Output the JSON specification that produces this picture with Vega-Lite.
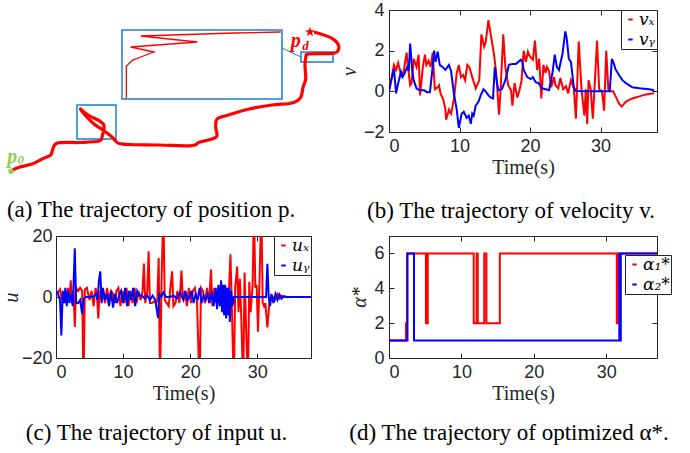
{
  "$schema": "https://vega.github.io/schema/vega-lite/v6.json",
  "background": "white",
  "padding": {"left": 0, "top": 0, "right": 0, "bottom": 0},
  "autosize": {"type": "pad"},
  "spacing": 2,
  "resolve": {"scale": {"color": "independent"}, "legend": {"color": "independent"}},
  "config": {
    "view": {"stroke": "#262626", "strokeWidth": 1},
    "axis": {"grid": false, "domain": false, "tickColor": "#262626", "tickSize": -5, "labelPadding": 10, "labelFont": "Liberation Sans", "labelFontSize": 18, "labelColor": "#262626", "titleFont": "Liberation Serif", "titleFontSize": 20, "titleFontWeight": "normal", "titleColor": "#262626"},
    "legend": {"symbolType": "stroke", "symbolStrokeWidth": 2, "symbolSize": 20, "labelFont": "DejaVu Serif", "labelFontStyle": "italic", "labelFontSize": 17, "strokeColor": "#262626", "fillColor": "white", "padding": 1, "rowPadding": 2, "labelOffset": 0, "offset": 0, "title": null},
    "title": {"font": "Liberation Serif", "fontSize": 23, "fontWeight": "normal", "color": "black", "orient": "bottom", "anchor": "middle"}
  },
  "datasets": {
    "traj": [
      {"i": 0, "x": 12, "y": 172}, {"i": 1, "x": 20, "y": 168.3}, {"i": 2, "x": 33, "y": 165}, {"i": 3, "x": 43, "y": 160}, {"i": 4, "x": 51.7, "y": 156},
      {"i": 5, "x": 53.3, "y": 151.7}, {"i": 6, "x": 58.3, "y": 144}, {"i": 7, "x": 80, "y": 143.5}, {"i": 8, "x": 100, "y": 142},
      {"i": 9, "x": 103.3, "y": 136.7}, {"i": 10, "x": 105, "y": 126.7}, {"i": 11, "x": 100, "y": 121.7}, {"i": 12, "x": 90, "y": 116.7},
      {"i": 13, "x": 83.3, "y": 111.7}, {"i": 14, "x": 81.5, "y": 110}, {"i": 15, "x": 85, "y": 115}, {"i": 16, "x": 95, "y": 125},
      {"i": 17, "x": 105, "y": 131.7}, {"i": 18, "x": 113.3, "y": 138.3}, {"i": 19, "x": 116.7, "y": 142}, {"i": 20, "x": 120, "y": 144.5},
      {"i": 21, "x": 130, "y": 145.5}, {"i": 22, "x": 160, "y": 146}, {"i": 23, "x": 190, "y": 146.8}, {"i": 24, "x": 197, "y": 145.5},
      {"i": 25, "x": 200, "y": 143.3}, {"i": 26, "x": 213, "y": 140}, {"i": 27, "x": 218, "y": 136.7}, {"i": 28, "x": 216.7, "y": 128.3},
      {"i": 29, "x": 218, "y": 120}, {"i": 30, "x": 227, "y": 116.7}, {"i": 31, "x": 250, "y": 110}, {"i": 32, "x": 273, "y": 106},
      {"i": 33, "x": 293, "y": 104}, {"i": 34, "x": 301.7, "y": 98.3}, {"i": 35, "x": 304, "y": 88.3}, {"i": 36, "x": 306.7, "y": 80},
      {"i": 37, "x": 306, "y": 66.7}, {"i": 38, "x": 307, "y": 57.3}, {"i": 39, "x": 310, "y": 55}, {"i": 40, "x": 333, "y": 54.3},
      {"i": 41, "x": 339, "y": 51.7}, {"i": 42, "x": 339, "y": 45}, {"i": 43, "x": 333, "y": 39.3}, {"i": 44, "x": 321.7, "y": 35},
      {"i": 45, "x": 315, "y": 33.3}
    ],
    "inset": [
      {"i": 0, "x": 127.3, "y": 99.7}, {"i": 1, "x": 127.3, "y": 67.3}, {"i": 2, "x": 133.3, "y": 61.3}, {"i": 3, "x": 141.7, "y": 58},
      {"i": 4, "x": 155, "y": 53}, {"i": 5, "x": 131.7, "y": 48}, {"i": 6, "x": 198.3, "y": 43}, {"i": 7, "x": 141.7, "y": 37},
      {"i": 8, "x": 235, "y": 34}, {"i": 9, "x": 281.7, "y": 33}
    ],
    "boxes": [
      {"x1": 78, "x2": 117, "y1": 106, "y2": 140},
      {"x1": 302, "x2": 334, "y1": 53, "y2": 63},
      {"x1": 123, "x2": 283, "y1": 31, "y2": 100}
    ],
    "links": [{"x1": 283, "y1": 49, "x2": 302, "y2": 58}],
    "start": [{"x": 12, "y": 172.3}],
    "goal": [{"x": 311, "y": 33}],
    "labels": [
      {"x": 13.3, "y": 158.3, "main": "p", "c": "start"},
      {"x": 296.7, "y": 41.7, "main": "p", "c": "goal"}
    ],
    "sublabels": [
      {"x": 21.7, "y": 160.5, "t": "0", "c": "start"},
      {"x": 306.5, "y": 46.5, "t": "d", "c": "goal"}
    ],
    "vel": [
      {"t": 0, "v": 0, "s": "vx"}, {"t": 0.7, "v": 1.3, "s": "vx"}, {"t": 1.0, "v": 1.05, "s": "vx"}, {"t": 1.3, "v": 1.4, "s": "vx"}, {"t": 1.7, "v": 0.8, "s": "vx"},
      {"t": 2.1, "v": 1.0, "s": "vx"}, {"t": 2.5, "v": 1.9, "s": "vx"}, {"t": 2.7, "v": 1.2, "s": "vx"}, {"t": 3.0, "v": 0.3, "s": "vx"}, {"t": 3.2, "v": 0.4, "s": "vx"},
      {"t": 3.5, "v": 1.6, "s": "vx"}, {"t": 3.9, "v": 1.2, "s": "vx"}, {"t": 4.2, "v": 1.8, "s": "vx"}, {"t": 4.4, "v": -0.2, "s": "vx"}, {"t": 4.8, "v": 1.2, "s": "vx"},
      {"t": 5.1, "v": 1.8, "s": "vx"}, {"t": 5.3, "v": 1.3, "s": "vx"}, {"t": 5.6, "v": 1.5, "s": "vx"}, {"t": 5.9, "v": 1.2, "s": "vx"}, {"t": 6.2, "v": 1.9, "s": "vx"},
      {"t": 6.5, "v": 0.1, "s": "vx"}, {"t": 6.9, "v": 0.2, "s": "vx"}, {"t": 7.1, "v": 0.3, "s": "vx"}, {"t": 7.3, "v": -0.1, "s": "vx"}, {"t": 7.7, "v": -0.4, "s": "vx"},
      {"t": 8.0, "v": -0.9, "s": "vx"}, {"t": 8.1, "v": -1.4, "s": "vx"}, {"t": 8.5, "v": -0.9, "s": "vx"}, {"t": 8.8, "v": -1.1, "s": "vx"}, {"t": 9.2, "v": -0.4, "s": "vx"},
      {"t": 9.6, "v": 0.9, "s": "vx"}, {"t": 9.9, "v": 1.3, "s": "vx"}, {"t": 10.2, "v": 0.7, "s": "vx"}, {"t": 10.5, "v": 0.8, "s": "vx"}, {"t": 10.8, "v": 0.55, "s": "vx"},
      {"t": 11.1, "v": 1.3, "s": "vx"}, {"t": 11.4, "v": 1.2, "s": "vx"}, {"t": 11.8, "v": 0.7, "s": "vx"}, {"t": 12.3, "v": 0.15, "s": "vx"}, {"t": 12.8, "v": 0.55, "s": "vx"},
      {"t": 13.1, "v": 2.8, "s": "vx"}, {"t": 13.5, "v": 2.2, "s": "vx"}, {"t": 13.7, "v": 2.4, "s": "vx"}, {"t": 14.1, "v": 3.5, "s": "vx"}, {"t": 14.4, "v": 2.85, "s": "vx"},
      {"t": 14.9, "v": 1.8, "s": "vx"}, {"t": 15.2, "v": 0.9, "s": "vx"}, {"t": 15.6, "v": -1.15, "s": "vx"}, {"t": 15.8, "v": -0.1, "s": "vx"}, {"t": 16.2, "v": 2.8, "s": "vx"},
      {"t": 16.5, "v": 1.2, "s": "vx"}, {"t": 16.9, "v": 0.3, "s": "vx"}, {"t": 17.3, "v": 0.05, "s": "vx"}, {"t": 17.5, "v": -0.7, "s": "vx"}, {"t": 17.8, "v": 0.4, "s": "vx"},
      {"t": 18.2, "v": -0.3, "s": "vx"}, {"t": 18.5, "v": 0.05, "s": "vx"}, {"t": 18.8, "v": 0.55, "s": "vx"}, {"t": 19.1, "v": 2.0, "s": "vx"}, {"t": 19.4, "v": 1.45, "s": "vx"},
      {"t": 19.7, "v": 1.95, "s": "vx"}, {"t": 20.0, "v": 1.7, "s": "vx"}, {"t": 20.4, "v": 1.55, "s": "vx"}, {"t": 20.7, "v": 2.5, "s": "vx"}, {"t": 21.0, "v": 1.05, "s": "vx"},
      {"t": 21.3, "v": 1.6, "s": "vx"}, {"t": 21.6, "v": -0.35, "s": "vx"}, {"t": 21.9, "v": 1.3, "s": "vx"}, {"t": 22.2, "v": 0.9, "s": "vx"}, {"t": 22.4, "v": 1.2, "s": "vx"},
      {"t": 22.7, "v": 1.0, "s": "vx"}, {"t": 23.0, "v": 0.2, "s": "vx"}, {"t": 23.4, "v": 0.7, "s": "vx"}, {"t": 23.6, "v": 0.3, "s": "vx"}, {"t": 24.0, "v": 0.15, "s": "vx"},
      {"t": 24.3, "v": 0.65, "s": "vx"}, {"t": 24.7, "v": 0.1, "s": "vx"}, {"t": 25.1, "v": 0.25, "s": "vx"}, {"t": 25.4, "v": -0.1, "s": "vx"}, {"t": 25.8, "v": 0.55, "s": "vx"},
      {"t": 26.2, "v": 0.15, "s": "vx"}, {"t": 26.5, "v": -1.35, "s": "vx"}, {"t": 26.7, "v": 0.5, "s": "vx"}, {"t": 26.9, "v": 2.45, "s": "vx"}, {"t": 27.3, "v": 0.1, "s": "vx"},
      {"t": 27.7, "v": -1.2, "s": "vx"}, {"t": 27.9, "v": 0.1, "s": "vx"}, {"t": 28.1, "v": -1.6, "s": "vx"}, {"t": 28.3, "v": 0.55, "s": "vx"}, {"t": 28.6, "v": 0.1, "s": "vx"},
      {"t": 28.9, "v": -1.35, "s": "vx"}, {"t": 29.2, "v": 0.55, "s": "vx"}, {"t": 29.5, "v": 2.5, "s": "vx"}, {"t": 29.8, "v": 0.1, "s": "vx"}, {"t": 30.2, "v": 0.0, "s": "vx"},
      {"t": 30.5, "v": -0.95, "s": "vx"}, {"t": 30.8, "v": 2.0, "s": "vx"}, {"t": 31.1, "v": 0.1, "s": "vx"}, {"t": 31.4, "v": 0.0, "s": "vx"}, {"t": 31.8, "v": 0.0, "s": "vx"},
      {"t": 32.2, "v": -0.3, "s": "vx"}, {"t": 32.6, "v": -0.6, "s": "vx"}, {"t": 33.0, "v": -0.75, "s": "vx"}, {"t": 33.6, "v": -0.5, "s": "vx"}, {"t": 34.5, "v": -0.35, "s": "vx"},
      {"t": 35.5, "v": -0.25, "s": "vx"}, {"t": 36.4, "v": -0.15, "s": "vx"}, {"t": 37.6, "v": -0.1, "s": "vx"},
      {"t": 0, "v": 0, "s": "vy"}, {"t": 0.3, "v": 0.5, "s": "vy"}, {"t": 0.7, "v": 1.1, "s": "vy"}, {"t": 1.0, "v": -0.1, "s": "vy"}, {"t": 1.3, "v": 0.4, "s": "vy"},
      {"t": 1.7, "v": 0.95, "s": "vy"}, {"t": 1.9, "v": 0.7, "s": "vy"}, {"t": 2.1, "v": 0.8, "s": "vy"}, {"t": 2.4, "v": 1.05, "s": "vy"}, {"t": 2.6, "v": 1.2, "s": "vy"},
      {"t": 2.8, "v": 1.0, "s": "vy"}, {"t": 3.0, "v": 2.35, "s": "vy"}, {"t": 3.3, "v": 1.0, "s": "vy"}, {"t": 3.5, "v": 0.55, "s": "vy"}, {"t": 3.9, "v": 0.15, "s": "vy"},
      {"t": 4.3, "v": 0.05, "s": "vy"}, {"t": 5.0, "v": 0.05, "s": "vy"}, {"t": 5.4, "v": -0.05, "s": "vy"}, {"t": 5.8, "v": -0.05, "s": "vy"}, {"t": 6.1, "v": 0.9, "s": "vy"},
      {"t": 6.4, "v": 2.0, "s": "vy"}, {"t": 6.6, "v": 1.45, "s": "vy"}, {"t": 6.9, "v": 1.95, "s": "vy"}, {"t": 7.2, "v": 1.3, "s": "vy"}, {"t": 7.6, "v": 1.2, "s": "vy"},
      {"t": 8.0, "v": 1.05, "s": "vy"}, {"t": 8.3, "v": 1.2, "s": "vy"}, {"t": 8.5, "v": 1.3, "s": "vy"}, {"t": 8.8, "v": 1.0, "s": "vy"}, {"t": 9.2, "v": -0.1, "s": "vy"},
      {"t": 9.6, "v": -0.9, "s": "vy"}, {"t": 9.9, "v": -1.8, "s": "vy"}, {"t": 10.3, "v": -1.1, "s": "vy"}, {"t": 10.6, "v": -1.0, "s": "vy"}, {"t": 11.0, "v": -1.3, "s": "vy"},
      {"t": 11.3, "v": -1.2, "s": "vy"}, {"t": 11.6, "v": -1.6, "s": "vy"}, {"t": 11.8, "v": -1.1, "s": "vy"}, {"t": 12.0, "v": -1.2, "s": "vy"}, {"t": 12.3, "v": -0.7, "s": "vy"},
      {"t": 12.7, "v": -0.5, "s": "vy"}, {"t": 13.0, "v": -0.2, "s": "vy"}, {"t": 13.4, "v": 0.1, "s": "vy"}, {"t": 13.7, "v": 0.0, "s": "vy"}, {"t": 14.1, "v": -0.2, "s": "vy"},
      {"t": 14.4, "v": -0.3, "s": "vy"}, {"t": 14.75, "v": -0.35, "s": "vy"}, {"t": 15.0, "v": 1.2, "s": "vy"}, {"t": 15.2, "v": 0.7, "s": "vy"}, {"t": 15.5, "v": 0.05, "s": "vy"},
      {"t": 16.0, "v": 0.1, "s": "vy"}, {"t": 16.5, "v": 0.55, "s": "vy"}, {"t": 17.0, "v": 1.3, "s": "vy"}, {"t": 17.5, "v": 1.35, "s": "vy"}, {"t": 18.0, "v": 1.35, "s": "vy"},
      {"t": 18.7, "v": 1.55, "s": "vy"}, {"t": 18.9, "v": 1.45, "s": "vy"}, {"t": 19.1, "v": 1.05, "s": "vy"}, {"t": 19.6, "v": 0.7, "s": "vy"}, {"t": 20.1, "v": 0.6, "s": "vy"},
      {"t": 20.4, "v": 0.7, "s": "vy"}, {"t": 20.8, "v": 0.45, "s": "vy"}, {"t": 21.2, "v": 0.4, "s": "vy"}, {"t": 21.7, "v": 0.15, "s": "vy"}, {"t": 22.2, "v": 0.1, "s": "vy"},
      {"t": 22.7, "v": 0.05, "s": "vy"}, {"t": 23.2, "v": 0.95, "s": "vy"}, {"t": 23.5, "v": 1.8, "s": "vy"}, {"t": 23.8, "v": 1.2, "s": "vy"}, {"t": 24.1, "v": 1.05, "s": "vy"},
      {"t": 24.6, "v": 1.85, "s": "vy"}, {"t": 25.0, "v": 2.95, "s": "vy"}, {"t": 25.2, "v": 2.6, "s": "vy"}, {"t": 25.5, "v": 1.6, "s": "vy"}, {"t": 25.8, "v": 1.45, "s": "vy"},
      {"t": 26.2, "v": 0.2, "s": "vy"}, {"t": 26.5, "v": 0.02, "s": "vy"}, {"t": 28.0, "v": 0.0, "s": "vy"}, {"t": 30.0, "v": 0.0, "s": "vy"}, {"t": 31.3, "v": 0.0, "s": "vy"},
      {"t": 31.6, "v": 1.6, "s": "vy"}, {"t": 31.9, "v": 1.35, "s": "vy"}, {"t": 32.1, "v": 1.1, "s": "vy"}, {"t": 32.6, "v": 0.8, "s": "vy"}, {"t": 33.1, "v": 0.55, "s": "vy"},
      {"t": 33.6, "v": 0.4, "s": "vy"}, {"t": 34.5, "v": 0.2, "s": "vy"}, {"t": 35.5, "v": 0.15, "s": "vy"}, {"t": 36.9, "v": 0.1, "s": "vy"}, {"t": 37.6, "v": 0.05, "s": "vy"}
    ],
    "inp": [
      {"t": 0, "u": 2, "s": "ux"}, {"t": 0.3, "u": 1.5, "s": "ux"}, {"t": 0.6, "u": 2.5, "s": "ux"}, {"t": 0.9, "u": -1, "s": "ux"}, {"t": 1.2, "u": 1, "s": "ux"},
      {"t": 1.5, "u": -2, "s": "ux"}, {"t": 1.8, "u": 3, "s": "ux"}, {"t": 2.0, "u": -1, "s": "ux"}, {"t": 2.2, "u": 5.5, "s": "ux"}, {"t": 2.4, "u": -2, "s": "ux"},
      {"t": 2.6, "u": 2, "s": "ux"}, {"t": 2.8, "u": -9.8, "s": "ux"}, {"t": 3.0, "u": 3, "s": "ux"}, {"t": 3.3, "u": 2, "s": "ux"}, {"t": 3.6, "u": 3, "s": "ux"},
      {"t": 3.9, "u": 2, "s": "ux"}, {"t": 4.1, "u": -30, "s": "ux"}, {"t": 4.3, "u": 2.5, "s": "ux"}, {"t": 4.6, "u": 3, "s": "ux"}, {"t": 5.0, "u": -1, "s": "ux"},
      {"t": 5.3, "u": 2, "s": "ux"}, {"t": 5.6, "u": -3, "s": "ux"}, {"t": 5.9, "u": 3, "s": "ux"}, {"t": 6.1, "u": 1, "s": "ux"}, {"t": 6.3, "u": -7, "s": "ux"},
      {"t": 6.5, "u": 2, "s": "ux"}, {"t": 6.8, "u": -1, "s": "ux"}, {"t": 7.0, "u": 2, "s": "ux"}, {"t": 7.3, "u": -2, "s": "ux"}, {"t": 7.6, "u": 3, "s": "ux"},
      {"t": 7.9, "u": -1, "s": "ux"}, {"t": 8.2, "u": 2, "s": "ux"}, {"t": 8.5, "u": 1, "s": "ux"}, {"t": 8.8, "u": -2, "s": "ux"}, {"t": 9.0, "u": 2, "s": "ux"},
      {"t": 9.3, "u": 3, "s": "ux"}, {"t": 9.6, "u": -3, "s": "ux"}, {"t": 9.9, "u": 2, "s": "ux"}, {"t": 10.2, "u": -2, "s": "ux"}, {"t": 10.5, "u": 3, "s": "ux"},
      {"t": 10.8, "u": -3, "s": "ux"}, {"t": 11.1, "u": 2, "s": "ux"}, {"t": 11.4, "u": -2, "s": "ux"}, {"t": 11.7, "u": 3, "s": "ux"}, {"t": 12.0, "u": -2, "s": "ux"},
      {"t": 12.3, "u": 2, "s": "ux"}, {"t": 12.6, "u": -1, "s": "ux"}, {"t": 12.9, "u": 2, "s": "ux"}, {"t": 13.1, "u": 11, "s": "ux"}, {"t": 13.3, "u": -2, "s": "ux"},
      {"t": 13.6, "u": 2, "s": "ux"}, {"t": 13.8, "u": 15, "s": "ux"}, {"t": 14.0, "u": -2, "s": "ux"}, {"t": 14.3, "u": -2, "s": "ux"}, {"t": 14.6, "u": -1.5, "s": "ux"},
      {"t": 14.9, "u": -2, "s": "ux"}, {"t": 15.1, "u": -1, "s": "ux"}, {"t": 15.3, "u": 12.8, "s": "ux"}, {"t": 15.5, "u": -30, "s": "ux"}, {"t": 15.7, "u": 2, "s": "ux"},
      {"t": 16.0, "u": 30, "s": "ux"}, {"t": 16.2, "u": -1, "s": "ux"}, {"t": 16.5, "u": -2, "s": "ux"}, {"t": 16.8, "u": -3, "s": "ux"}, {"t": 17.0, "u": 2, "s": "ux"},
      {"t": 17.3, "u": 8.4, "s": "ux"}, {"t": 17.5, "u": -3, "s": "ux"}, {"t": 17.8, "u": -2, "s": "ux"}, {"t": 18.1, "u": 2, "s": "ux"}, {"t": 18.4, "u": -2, "s": "ux"},
      {"t": 18.7, "u": 8.7, "s": "ux"}, {"t": 18.9, "u": -1, "s": "ux"}, {"t": 19.2, "u": 2, "s": "ux"}, {"t": 19.5, "u": -3, "s": "ux"}, {"t": 19.8, "u": 3, "s": "ux"},
      {"t": 20.1, "u": -2, "s": "ux"}, {"t": 20.4, "u": 2, "s": "ux"}, {"t": 20.7, "u": 3, "s": "ux"}, {"t": 21.0, "u": -1, "s": "ux"}, {"t": 21.4, "u": -30, "s": "ux"},
      {"t": 21.6, "u": 3, "s": "ux"}, {"t": 21.9, "u": 2, "s": "ux"}, {"t": 22.2, "u": -2, "s": "ux"}, {"t": 22.5, "u": 3, "s": "ux"}, {"t": 22.8, "u": -2, "s": "ux"},
      {"t": 23.1, "u": 9, "s": "ux"}, {"t": 23.3, "u": -3, "s": "ux"}, {"t": 23.6, "u": 3, "s": "ux"}, {"t": 23.9, "u": -2, "s": "ux"}, {"t": 24.2, "u": 3, "s": "ux"},
      {"t": 24.5, "u": -3, "s": "ux"}, {"t": 24.8, "u": 3, "s": "ux"}, {"t": 25.1, "u": -4, "s": "ux"}, {"t": 25.4, "u": 3, "s": "ux"}, {"t": 25.7, "u": -2, "s": "ux"},
      {"t": 26.0, "u": 14, "s": "ux"}, {"t": 26.2, "u": -3, "s": "ux"}, {"t": 26.5, "u": -30, "s": "ux"}, {"t": 26.7, "u": 3, "s": "ux"}, {"t": 27.0, "u": 10, "s": "ux"},
      {"t": 27.2, "u": -5, "s": "ux"}, {"t": 27.4, "u": 6, "s": "ux"}, {"t": 27.6, "u": -6, "s": "ux"}, {"t": 27.9, "u": -30, "s": "ux"}, {"t": 28.1, "u": 8, "s": "ux"},
      {"t": 28.3, "u": -8, "s": "ux"}, {"t": 28.6, "u": -30, "s": "ux"}, {"t": 28.8, "u": 5, "s": "ux"}, {"t": 29.0, "u": -5, "s": "ux"}, {"t": 29.3, "u": 4, "s": "ux"},
      {"t": 29.5, "u": 30, "s": "ux"}, {"t": 29.7, "u": 3, "s": "ux"}, {"t": 29.9, "u": 4, "s": "ux"}, {"t": 30.1, "u": -11.4, "s": "ux"}, {"t": 30.3, "u": 3, "s": "ux"},
      {"t": 30.6, "u": 30, "s": "ux"}, {"t": 30.8, "u": -2, "s": "ux"}, {"t": 31.0, "u": -3, "s": "ux"}, {"t": 31.2, "u": -2, "s": "ux"}, {"t": 31.5, "u": -10, "s": "ux"},
      {"t": 31.8, "u": -2, "s": "ux"}, {"t": 32.0, "u": -1, "s": "ux"}, {"t": 32.3, "u": 0, "s": "ux"}, {"t": 32.6, "u": -1, "s": "ux"}, {"t": 33.0, "u": 1, "s": "ux"},
      {"t": 33.3, "u": -0.5, "s": "ux"}, {"t": 33.6, "u": 0.5, "s": "ux"}, {"t": 34.0, "u": 0, "s": "ux"}, {"t": 35, "u": 0, "s": "ux"}, {"t": 38, "u": 0, "s": "ux"},
      {"t": 0, "u": 2, "s": "uy"}, {"t": 0.3, "u": 1, "s": "uy"}, {"t": 0.6, "u": -1, "s": "uy"}, {"t": 0.8, "u": -12.6, "s": "uy"}, {"t": 1.0, "u": 2, "s": "uy"},
      {"t": 1.2, "u": -2, "s": "uy"}, {"t": 1.4, "u": 3, "s": "uy"}, {"t": 1.6, "u": -3, "s": "uy"}, {"t": 1.8, "u": 2, "s": "uy"}, {"t": 2.0, "u": -2, "s": "uy"},
      {"t": 2.2, "u": 1, "s": "uy"}, {"t": 2.5, "u": -3, "s": "uy"}, {"t": 2.8, "u": 16, "s": "uy"}, {"t": 3.0, "u": -2, "s": "uy"}, {"t": 3.3, "u": -2, "s": "uy"},
      {"t": 3.6, "u": -1, "s": "uy"}, {"t": 3.9, "u": -5.5, "s": "uy"}, {"t": 4.1, "u": -0.5, "s": "uy"}, {"t": 4.5, "u": 0, "s": "uy"}, {"t": 5.5, "u": 0, "s": "uy"},
      {"t": 6.0, "u": 1, "s": "uy"}, {"t": 6.2, "u": -1, "s": "uy"}, {"t": 6.4, "u": 5.5, "s": "uy"}, {"t": 6.6, "u": 8.4, "s": "uy"}, {"t": 6.8, "u": -2, "s": "uy"},
      {"t": 7.0, "u": 3, "s": "uy"}, {"t": 7.3, "u": -1, "s": "uy"}, {"t": 7.6, "u": 1, "s": "uy"}, {"t": 7.9, "u": -3, "s": "uy"}, {"t": 8.2, "u": 2, "s": "uy"},
      {"t": 8.5, "u": -3.5, "s": "uy"}, {"t": 8.8, "u": 1, "s": "uy"}, {"t": 9.1, "u": -2, "s": "uy"}, {"t": 9.4, "u": 0.5, "s": "uy"}, {"t": 9.7, "u": 2, "s": "uy"},
      {"t": 10.0, "u": -2, "s": "uy"}, {"t": 10.3, "u": 3, "s": "uy"}, {"t": 10.6, "u": -3, "s": "uy"}, {"t": 10.9, "u": 2, "s": "uy"}, {"t": 11.2, "u": -1, "s": "uy"},
      {"t": 11.5, "u": 3, "s": "uy"}, {"t": 11.8, "u": -3, "s": "uy"}, {"t": 12.1, "u": 2, "s": "uy"}, {"t": 12.4, "u": 0.5, "s": "uy"}, {"t": 12.8, "u": 0.5, "s": "uy"},
      {"t": 13.2, "u": -0.5, "s": "uy"}, {"t": 13.6, "u": 0.5, "s": "uy"}, {"t": 14.0, "u": -1, "s": "uy"}, {"t": 14.4, "u": 0.5, "s": "uy"}, {"t": 14.8, "u": -1, "s": "uy"},
      {"t": 15.2, "u": -6.9, "s": "uy"}, {"t": 15.4, "u": 1, "s": "uy"}, {"t": 15.7, "u": 0, "s": "uy"}, {"t": 16.0, "u": 1.5, "s": "uy"}, {"t": 16.4, "u": 0, "s": "uy"},
      {"t": 17.0, "u": 0, "s": "uy"}, {"t": 17.5, "u": 0.5, "s": "uy"}, {"t": 18.0, "u": -0.5, "s": "uy"}, {"t": 18.5, "u": 1.5, "s": "uy"}, {"t": 19.0, "u": -1, "s": "uy"},
      {"t": 19.3, "u": 2, "s": "uy"}, {"t": 19.6, "u": -1, "s": "uy"}, {"t": 19.9, "u": 0, "s": "uy"}, {"t": 20.2, "u": 2, "s": "uy"}, {"t": 20.5, "u": -2, "s": "uy"},
      {"t": 20.8, "u": 1, "s": "uy"}, {"t": 21.1, "u": -1, "s": "uy"}, {"t": 21.4, "u": 3, "s": "uy"}, {"t": 21.7, "u": -2, "s": "uy"}, {"t": 22.0, "u": 0.5, "s": "uy"},
      {"t": 22.3, "u": -1, "s": "uy"}, {"t": 22.6, "u": 1, "s": "uy"}, {"t": 22.9, "u": -2, "s": "uy"}, {"t": 23.2, "u": 2, "s": "uy"}, {"t": 23.5, "u": -3, "s": "uy"},
      {"t": 23.8, "u": 3, "s": "uy"}, {"t": 24.0, "u": -4, "s": "uy"}, {"t": 24.2, "u": 4, "s": "uy"}, {"t": 24.4, "u": -3, "s": "uy"}, {"t": 24.6, "u": 5.5, "s": "uy"},
      {"t": 24.75, "u": -5, "s": "uy"}, {"t": 24.9, "u": 4, "s": "uy"}, {"t": 25.05, "u": -6, "s": "uy"}, {"t": 25.2, "u": 4, "s": "uy"}, {"t": 25.35, "u": -7, "s": "uy"},
      {"t": 25.5, "u": 3, "s": "uy"}, {"t": 25.65, "u": -6, "s": "uy"}, {"t": 25.8, "u": 3, "s": "uy"}, {"t": 25.9, "u": -8.2, "s": "uy"}, {"t": 26.1, "u": 2, "s": "uy"},
      {"t": 26.3, "u": -3, "s": "uy"}, {"t": 26.5, "u": 0, "s": "uy"}, {"t": 27, "u": 0, "s": "uy"}, {"t": 29, "u": 0, "s": "uy"}, {"t": 31.3, "u": 0, "s": "uy"},
      {"t": 31.5, "u": 10.9, "s": "uy"}, {"t": 31.7, "u": 0, "s": "uy"}, {"t": 31.9, "u": -3, "s": "uy"}, {"t": 32.1, "u": 1, "s": "uy"}, {"t": 32.4, "u": -2, "s": "uy"},
      {"t": 32.7, "u": 1, "s": "uy"}, {"t": 33.0, "u": -1, "s": "uy"}, {"t": 33.3, "u": 0.8, "s": "uy"}, {"t": 33.6, "u": -0.5, "s": "uy"}, {"t": 34.0, "u": 0.3, "s": "uy"},
      {"t": 34.5, "u": -0.1, "s": "uy"}, {"t": 35, "u": 0, "s": "uy"}, {"t": 38, "u": 0, "s": "uy"}
    ],
    "alpha": [
      {"t": 0, "a": 1, "s": "a1"}, {"t": 2.35, "a": 2, "s": "a1"}, {"t": 2.5, "a": 6, "s": "a1"}, {"t": 5.1, "a": 2, "s": "a1"}, {"t": 5.35, "a": 6, "s": "a1"},
      {"t": 11.7, "a": 2, "s": "a1"}, {"t": 12.1, "a": 6, "s": "a1"}, {"t": 12.25, "a": 2, "s": "a1"}, {"t": 13.15, "a": 6, "s": "a1"}, {"t": 13.45, "a": 2, "s": "a1"},
      {"t": 15.3, "a": 6, "s": "a1"}, {"t": 31.45, "a": 2, "s": "a1"}, {"t": 31.6, "a": 6, "s": "a1"}, {"t": 37, "a": 6, "s": "a1"},
      {"t": 0, "a": 1, "s": "a2"}, {"t": 2.55, "a": 6, "s": "a2"}, {"t": 3.45, "a": 1, "s": "a2"}, {"t": 31.8, "a": 6, "s": "a2"}, {"t": 31.85, "a": 1, "s": "a2"},
      {"t": 31.9, "a": 6, "s": "a2"}, {"t": 31.95, "a": 1, "s": "a2"}, {"t": 32.0, "a": 6, "s": "a2"}, {"t": 37, "a": 6, "s": "a2"}
    ]
  },
  "vconcat": [
    {
      "spacing": 45,
      "bounds": "flush",
      "resolve": {"scale": {"color": "independent"}, "legend": {"color": "independent"}},
      "hconcat": [
        {
          "width": 288,
          "height": 179,
          "view": {"stroke": null},
          "title": {"text": "(a) The trajectory of position p.", "offset": 10, "dx": -49},
          "layer": [
            {
              "data": {"name": "boxes"},
              "mark": {"type": "rect", "fillOpacity": 0, "stroke": "#1a7fd0", "strokeWidth": 1.5},
              "encoding": {
                "x": {"field": "x1", "type": "quantitative", "scale": {"domain": [57, 345], "nice": false, "zero": false}, "axis": null},
                "x2": {"field": "x2"},
                "y": {"field": "y1", "type": "quantitative", "scale": {"domain": [11, 190], "nice": false, "zero": false, "reverse": true}, "axis": null},
                "y2": {"field": "y2"}
              }
            },
            {
              "data": {"name": "links"},
              "mark": {"type": "rule", "stroke": "#1a7fd0", "strokeWidth": 1},
              "encoding": {
                "x": {"field": "x1", "type": "quantitative", "axis": null},
                "x2": {"field": "x2"},
                "y": {"field": "y1", "type": "quantitative", "axis": null},
                "y2": {"field": "y2"}
              }
            },
            {
              "data": {"name": "inset"},
              "mark": {"type": "line", "color": "#ff0000", "strokeWidth": 1.3},
              "encoding": {
                "x": {"field": "x", "type": "quantitative", "axis": null},
                "y": {"field": "y", "type": "quantitative", "axis": null},
                "order": {"field": "i"}
              }
            },
            {
              "data": {"name": "traj"},
              "mark": {"type": "line", "color": "#ff0000", "strokeWidth": 3.2, "interpolate": "cardinal"},
              "encoding": {
                "x": {"field": "x", "type": "quantitative", "axis": null},
                "y": {"field": "y", "type": "quantitative", "axis": null},
                "order": {"field": "i"}
              }
            },
            {
              "data": {"name": "start"},
              "mark": {"type": "point", "shape": "circle", "filled": true, "size": 30, "color": "#92d050", "opacity": 1},
              "encoding": {
                "x": {"field": "x", "type": "quantitative", "axis": null},
                "y": {"field": "y", "type": "quantitative", "axis": null}
              }
            },
            {
              "data": {"name": "goal"},
              "mark": {"type": "point", "shape": "M0,-1L0.235,-0.324L0.951,-0.309L0.38,0.124L0.588,0.809L0,0.4L-0.588,0.809L-0.38,0.124L-0.951,-0.309L-0.235,-0.324Z", "filled": true, "size": 110, "color": "#ff0000", "opacity": 1},
              "encoding": {
                "x": {"field": "x", "type": "quantitative", "axis": null},
                "y": {"field": "y", "type": "quantitative", "axis": null}
              }
            },
            {
              "data": {"name": "labels"},
              "mark": {"type": "text", "font": "Liberation Serif", "fontSize": 20, "fontStyle": "italic", "fontWeight": "bold", "baseline": "middle", "align": "center"},
              "encoding": {
                "x": {"field": "x", "type": "quantitative", "axis": null},
                "y": {"field": "y", "type": "quantitative", "axis": null},
                "text": {"field": "main"},
                "color": {"field": "c", "type": "nominal", "scale": {"domain": ["start", "goal"], "range": ["#92d050", "#ff0000"]}, "legend": null}
              }
            },
            {
              "data": {"name": "sublabels"},
              "mark": {"type": "text", "font": "Liberation Serif", "fontSize": 13, "fontStyle": "italic", "fontWeight": "bold", "baseline": "middle", "align": "center"},
              "encoding": {
                "x": {"field": "x", "type": "quantitative", "axis": null},
                "y": {"field": "y", "type": "quantitative", "axis": null},
                "text": {"field": "t"},
                "color": {"field": "c", "type": "nominal", "scale": {"domain": ["start", "goal"], "range": ["#92d050", "#ff0000"]}, "legend": null}
              }
            }
          ]
        },
        {
          "width": 268,
          "height": 122,
          "data": {"name": "vel"},
          "title": {"text": "(b) The trajectory of velocity v.", "offset": 23, "dx": -12},
          "resolve": {"axis": {"x": "independent", "y": "independent"}},
          "layer": [
            {
              "mark": {"type": "line", "strokeWidth": 2, "clip": true},
              "encoding": {
                "x": {"field": "t", "type": "quantitative", "scale": {"domain": [0, 38], "nice": false}, "axis": {"values": [0, 10, 20, 30], "title": "Time(s)", "titlePadding": 2}},
                "y": {"field": "v", "type": "quantitative", "scale": {"domain": [-2, 4], "nice": false}, "axis": {"values": [-2, 0, 2, 4], "title": "v", "titleFontStyle": "italic", "titlePadding": 4}},
                "color": {"field": "s", "type": "nominal", "scale": {"domain": ["vx", "vy"], "range": ["#ff0000", "#0000ff"]}, "legend": {"orient": "top-right", "labelExpr": "datum.label == 'vx' ? 'v\u2093' : 'v\u1d67'"}}
              }
            },
            {
              "mark": {"type": "line", "opacity": 0, "clip": true},
              "encoding": {
                "x": {"field": "t", "type": "quantitative", "axis": {"orient": "top", "values": [0, 10, 20, 30], "labels": false, "title": null, "minExtent": 0, "maxExtent": 0}},
                "y": {"field": "v", "type": "quantitative", "axis": {"orient": "right", "values": [-2, 0, 2, 4], "labels": false, "title": null, "minExtent": 0, "maxExtent": 0}}
              }
            }
          ]
        }
      ]
    },
    {
      "spacing": 78,
      "bounds": "flush",
      "resolve": {"scale": {"color": "independent"}, "legend": {"color": "independent"}},
      "hconcat": [
        {
          "width": 255,
          "height": 122,
          "data": {"name": "inp"},
          "title": {"text": "(c) The trajectory of input u.", "offset": 19, "dx": -27},
          "resolve": {"axis": {"x": "independent", "y": "independent"}},
          "layer": [
            {
              "mark": {"type": "line", "strokeWidth": 2, "clip": true},
              "encoding": {
                "x": {"field": "t", "type": "quantitative", "scale": {"domain": [0, 38], "nice": false}, "axis": {"values": [0, 10, 20, 30], "title": "Time(s)", "titlePadding": 2}},
                "y": {"field": "u", "type": "quantitative", "scale": {"domain": [-20, 20], "nice": false}, "axis": {"values": [-20, 0, 20], "title": "u", "titleFontStyle": "italic", "titlePadding": 0, "labelPadding": 9}},
                "color": {"field": "s", "type": "nominal", "scale": {"domain": ["ux", "uy"], "range": ["#ff0000", "#0000ff"]}, "legend": {"orient": "top-right", "labelExpr": "datum.label == 'ux' ? 'u\u2093' : 'u\u1d67'"}}
              }
            },
            {
              "mark": {"type": "line", "opacity": 0, "clip": true},
              "encoding": {
                "x": {"field": "t", "type": "quantitative", "axis": {"orient": "top", "values": [0, 10, 20, 30], "labels": false, "title": null, "minExtent": 0, "maxExtent": 0}},
                "y": {"field": "u", "type": "quantitative", "axis": {"orient": "right", "values": [-20, 0, 20], "labels": false, "title": null, "minExtent": 0, "maxExtent": 0}}
              }
            }
          ]
        },
        {
          "width": 268,
          "height": 122,
          "data": {"name": "alpha"},
          "title": {"text": "(d) The trajectory of optimized \u03b1*.", "offset": 19, "dx": -14},
          "resolve": {"axis": {"x": "independent", "y": "independent"}},
          "layer": [
            {
              "mark": {"type": "line", "strokeWidth": 2, "clip": true, "interpolate": "step-after"},
              "encoding": {
                "x": {"field": "t", "type": "quantitative", "scale": {"domain": [0, 37], "nice": false}, "axis": {"values": [0, 10, 20, 30], "title": "Time(s)", "titlePadding": 2}},
                "y": {"field": "a", "type": "quantitative", "scale": {"domain": [0, 7], "nice": false}, "axis": {"values": [0, 2, 4, 6], "title": "\u03b1*", "titleFontStyle": "italic", "titlePadding": 4}},
                "color": {"field": "s", "type": "nominal", "scale": {"domain": ["a1", "a2"], "range": ["#ff0000", "#0000ff"]}, "legend": {"orient": "none", "legendX": 236, "legendY": 19, "labelExpr": "datum.label == 'a1' ? '\u03b1\u2081*' : '\u03b1\u2082*'"}}
              }
            },
            {
              "mark": {"type": "line", "opacity": 0, "clip": true},
              "encoding": {
                "x": {"field": "t", "type": "quantitative", "axis": {"orient": "top", "values": [0, 10, 20, 30], "labels": false, "title": null, "minExtent": 0, "maxExtent": 0}},
                "y": {"field": "a", "type": "quantitative", "axis": {"orient": "right", "values": [0, 2, 4, 6], "labels": false, "title": null, "minExtent": 0, "maxExtent": 0}}
              }
            }
          ]
        }
      ]
    }
  ]
}
